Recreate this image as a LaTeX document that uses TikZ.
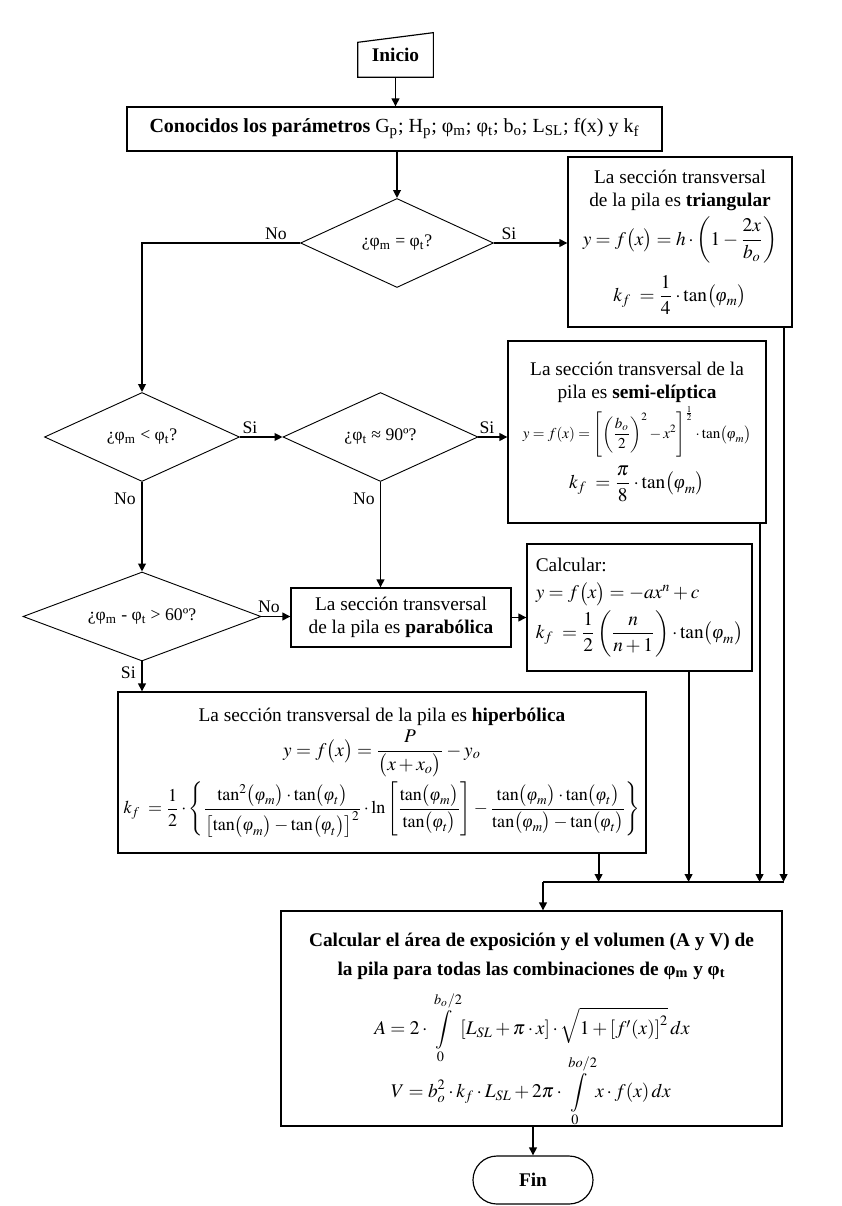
\documentclass[tikz,border=0pt]{standalone}
\usepackage{mathptmx}
\usepackage{amsmath}
\usepackage{graphicx}
\usepackage{fontspec}
\setmainfont{Liberation Serif}
\usetikzlibrary{shapes.geometric,arrows.meta,calc}
\def\pxu{0.6pt}
\newcommand\boxfont{\fontsize{11.6}{13.8}\selectfont}
\newcommand\diafont{\fontsize{10.6}{12.5}\selectfont}
\newcommand\labfont{\fontsize{10.6}{12.5}\selectfont}
\newcommand\vph{\text{\normalfont\itshape φ}}
\tikzset{
  box/.style={draw, line width=0.7pt, rectangle, inner sep=0pt, align=center, font=\boxfont},
  txt/.style={inner sep=0pt, align=center, font=\boxfont},
  dia/.style={draw, diamond, line width=0.55pt, inner sep=0pt, aspect=2, font=\diafont},
  arr/.style={line width=1.1pt, -{Triangle[length=4.8pt,width=4.6pt]}},
  lnk/.style={line width=1.1pt},
  lab/.style={font=\labfont, inner sep=0pt},
}
\begin{document}
\begin{tikzpicture}[x=0.6pt,y=-0.6pt]
\useasboundingbox (0,0) rectangle (841,1206);
% Inicio
\node[inner sep=0pt, minimum width=75*\pxu, minimum height=44*\pxu, font=\boxfont] (inicio) at (395.5,55) {\raisebox{-2.5pt}{\textbf{Inicio}}};
\draw[line width=0.7pt] (inicio.south west) -- ($(inicio.south west)+(0,-35)$) -- (inicio.north east) -- (inicio.south east) -- cycle;
% boxes
\node[box, font=\fontsize{12}{14}\selectfont, minimum width=535*\pxu, minimum height=44*\pxu] (conoc) at (394.5,129)
  {\textbf{Conocidos los parámetros} G\textsubscript{p}; H\textsubscript{p}; φ\textsubscript{m}; φ\textsubscript{t}; b\textsubscript{o}; L\textsubscript{SL}; f(x) y k\textsubscript{f}};
\node[dia, minimum width=193*\pxu, minimum height=89*\pxu] (d1) at (397,243) {¿φ\textsubscript{m} = φ\textsubscript{t}?};
\node[box, minimum width=224*\pxu, minimum height=170*\pxu] (tri) at (680,242)
  {La sección transversal\\de la pila es \textbf{triangular}\\[3pt]
   $\displaystyle y=f\bigl(x\bigr)=h\cdot\left(1-\frac{2x}{b_o}\right)$\\[6pt]
   $\displaystyle k_f\;=\frac{1}{4}\cdot\tan\bigl(\vph_m\bigr)$};
\node[dia, minimum width=195*\pxu, minimum height=89*\pxu] (d2) at (142,437) {¿φ\textsubscript{m} < φ\textsubscript{t}?};
\node[dia, minimum width=195*\pxu, minimum height=89*\pxu] (d3) at (380.5,437) {¿φ\textsubscript{t} ≈ 90º?};
\node[box, minimum width=258*\pxu, minimum height=182*\pxu] (semi) at (637,432)
  {La sección transversal de la\\pila es \textbf{semi-elíptica}\\[1pt]
   \resizebox{137pt}{!}{$\displaystyle y=f(x)=\left[\left(\frac{b_o}{2}\right)^{2}-x^2\right]^{\frac{1}{2}}\cdot\tan\bigl(\vph_m\bigr)$}\\[4pt]
   $\displaystyle k_f\;=\frac{\pi}{8}\cdot\tan\bigl(\vph_m\bigr)$};
\node[dia, minimum width=238*\pxu, minimum height=89*\pxu] (d4) at (142,616.5) {¿φ\textsubscript{m} - φ\textsubscript{t} > 60º?};
\node[box, minimum width=220*\pxu, minimum height=59*\pxu] (para) at (401,617.5)
  {La sección transversal\\de la pila es \textbf{parabólica}};
\node[box, align=left, minimum width=225*\pxu, minimum height=127*\pxu] (calc) at (639.5,607.5)
  {Calcular:\\[2.5pt]
   $y=f\bigl(x\bigr)=-ax^n+c$\\[2pt]
   $\displaystyle k_f\;=\frac{1}{2}\left(\frac{n}{n+1}\right)\cdot\tan\bigl(\vph_m\bigr)$};
\node[box, minimum width=528*\pxu, minimum height=161*\pxu] (hyp) at (382,772.5)
  {La sección transversal de la pila es \textbf{hiperbólica}\\[2pt]
   $\displaystyle y=f\bigl(x\bigr)=\frac{P}{\bigl(x+x_o\bigr)}-y_o$\\[2pt]
   \resizebox{310pt}{!}{$\displaystyle k_f\;=\frac{1}{2}\cdot\left\{\frac{\tan^2\bigl(\vph_m\bigr)\cdot\tan\bigl(\vph_t\bigr)}{\bigl[\tan\bigl(\vph_m\bigr)-\tan\bigl(\vph_t\bigr)\bigr]^2}\cdot\ln\left[\frac{\tan\bigl(\vph_m\bigr)}{\tan\bigl(\vph_t\bigr)}\right]-\frac{\tan\bigl(\vph_m\bigr)\cdot\tan\bigl(\vph_t\bigr)}{\tan\bigl(\vph_m\bigr)-\tan\bigl(\vph_t\bigr)}\right\}$}};
\node[box, minimum width=501*\pxu, minimum height=215*\pxu] (bot) at (531.5,1018.5) {};
\node[txt, anchor=base] (bt1) at (531.5,946) {\textbf{Calcular el área de exposición y el volumen (A y V) de}};
\node[txt, anchor=base] (bt2) at (531.5,975) {\textbf{la pila para todas las combinaciones de φ\textsubscript{m} y φ\textsubscript{t}}};
\node[txt] (bA) at (532,1028) {$\displaystyle A=2\cdot\int\limits_0^{b_o/2}\left[L_{SL}+\pi\cdot x\right]\cdot\sqrt{1+\left[f'(x)\right]^2}\,dx$};
\node[txt] (bV) at (531,1091) {$\displaystyle V=b_o^2\cdot k_f\cdot L_{SL}+2\pi\cdot\int\limits_0^{bo/2}x\cdot f(x)\,dx$};
\node[box, rounded corners=14.4pt, minimum width=120*\pxu, minimum height=48*\pxu] (fin) at (533,1180) {\textbf{Fin}};
% connectors
\draw[arr] (inicio.south) -- (inicio.south |- conoc.north);
\draw[arr] (d1.north |- conoc.south) -- (d1.north);
\draw[arr] (d1.west) -| (d2.north);
\draw[arr] (d1.east) -- (d1.east -| tri.west);
\draw[arr] (d2.east) -- (d3.west);
\draw[arr] (d3.east) -- (d3.east -| semi.west);
\draw[arr] (d2.south) -- (d4.north);
\draw[arr] (d3.south) -- (d3.south |- para.north);
\draw[arr] (d4.east) -- (d4.east -| para.west);
\draw[arr] (d4.south) -- (d4.south |- hyp.north);
\draw[arr] (para.east) -- (para.east -| calc.west);
\coordinate (mg) at (543,882);
\coordinate (tx) at ($(tri.south east)+(-9,0)$);
\coordinate (sx) at ($(semi.south east)+(-7,0)$);
\coordinate (cx) at ($(calc.south east)+(-64,0)$);
\coordinate (hx) at ($(hyp.south east)+(-48,0)$);
\draw[arr] (tx) -- (tx |- mg);
\draw[arr] (sx) -- (sx |- mg);
\draw[arr] (cx) -- (cx |- mg);
\draw[arr] (hx) -- (hx |- mg);
\draw[lnk] (mg) -- (tx |- mg);
\draw[arr] (mg) -- (mg |- bot.north);
\draw[arr] (fin.north |- bot.south) -- (fin.north);
% labels
\node[lab, anchor=south] (l1) at (276,240) {No};
\node[lab, anchor=south] (l2) at (509,240) {Si};
\node[lab, anchor=south] (l3) at (250,434) {Si};
\node[lab, anchor=south] (l4) at (487,434) {Si};
\node[lab, anchor=east] (l5) at (136,499) {No};
\node[lab, anchor=east] (l6) at (375,499) {No};
\node[lab, anchor=south] (l7) at (269,613) {No};
\node[lab, anchor=east] (l8) at (136,673) {Si};
\end{tikzpicture}
\end{document}
